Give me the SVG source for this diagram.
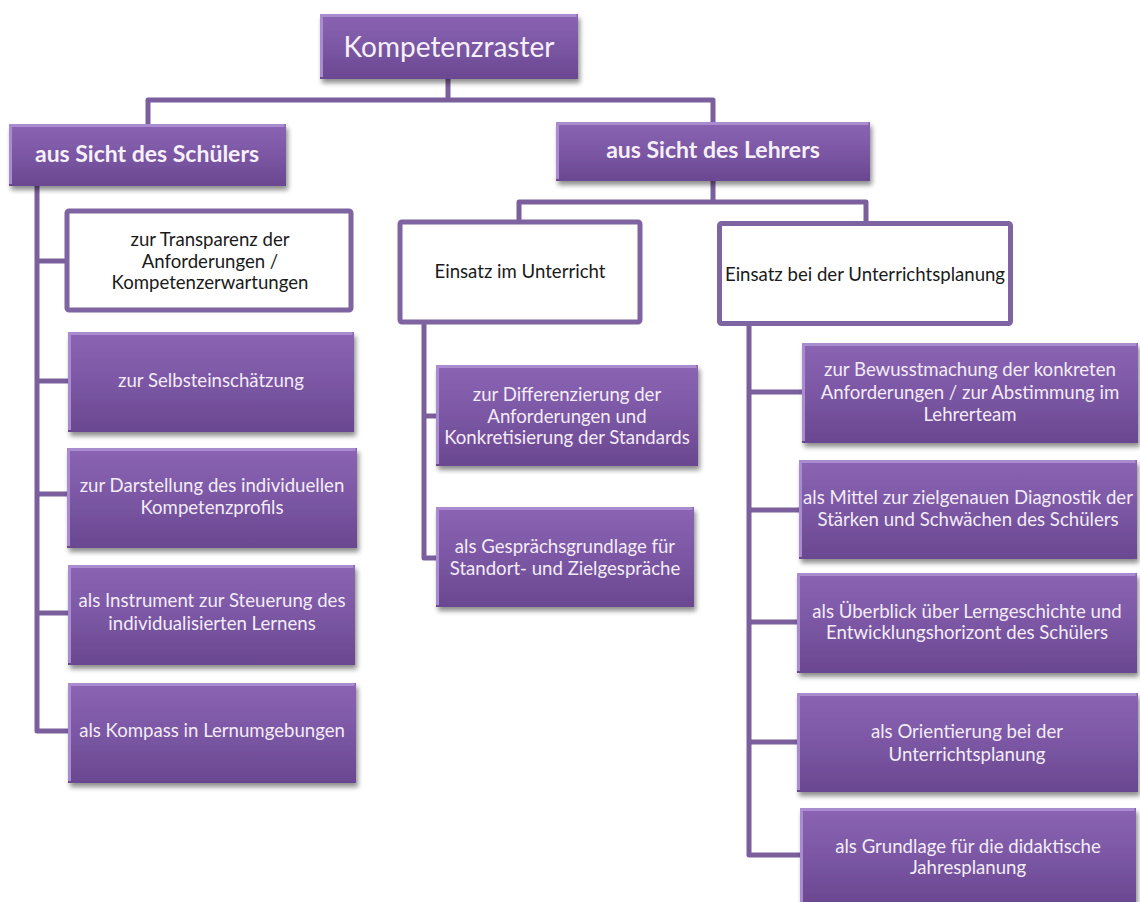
<svg xmlns="http://www.w3.org/2000/svg" width="1140" height="902" viewBox="0 0 1140 902">
<defs>
<linearGradient id="pg" x1="0" y1="0" x2="0" y2="1">
<stop offset="0" stop-color="#8b64b4"/>
<stop offset="0.5" stop-color="#7b57a4"/>
<stop offset="1" stop-color="#6a4790"/>
</linearGradient>
<filter id="sh" x="-10%" y="-10%" width="125%" height="135%">
<feGaussianBlur in="SourceAlpha" stdDeviation="2.5"/>
<feOffset dx="2" dy="4" result="b"/>
<feComponentTransfer><feFuncA type="linear" slope="0.45"/></feComponentTransfer>
<feMerge><feMergeNode/><feMergeNode in="SourceGraphic"/></feMerge>
</filter>
</defs>
<style>
.p{fill:url(#pg);filter:url(#sh)}
.hl{fill:none;stroke:#a98bd0;stroke-width:3}
.w{fill:#ffffff;stroke:#7f64a2;stroke-width:5}
.c{fill:none;stroke:#7b5e9c;stroke-width:5;stroke-linejoin:round}
text{font-family:Lato,"Open Sans","Liberation Sans",sans-serif;text-anchor:middle}
.t{fill:#f3ecf7;font-size:18.6px}
.b{fill:#1a1a1a;font-size:18.6px}
.h{fill:#f6f0fa;font-size:23px;font-weight:bold}
.k{fill:#f6f0fa;font-size:28px}
</style>
<g id="connectors">
<path class="c" d="M448 79 V100 M148 124 V100 H713 V122"/>
<path class="c" d="M37 186 V731 H68 M37 261 H67 M37 381 H68 M37 494 H67 M37 613 H68"/>
<path class="c" d="M713 181 V202 M519 222 V202 H866 V222"/>
<path class="c" d="M424 322 V558 H436 M424 416 H436"/>
<path class="c" d="M749 323 V855 H800 M749 392 H802 M749 510 H799 M749 622 H797 M749 742 H797"/>
</g>
<g id="n-root">
<rect class="p" x="320" y="14" width="258" height="65"/>
<path class="hl" d="M321.5 77 V15.5 H576.5"/>
<text class="k" x="449" y="57">Kompetenzraster</text>
</g>
<g id="n-schueler">
<rect class="p" x="9" y="124" width="277" height="62"/>
<path class="hl" d="M10.5 184 V125.5 H284.5"/>
<text class="h" x="147" y="162">aus Sicht des Schülers</text>
</g>
<g id="n-lehrer">
<rect class="p" x="556" y="122" width="314" height="59"/>
<path class="hl" d="M557.5 179 V123.5 H868.5"/>
<text class="h" x="713" y="158">aus Sicht des Lehrers</text>
</g>
<g id="n-transparenz">
<rect class="w" x="67" y="211" width="284" height="99" rx="2"/>
<text class="b" x="210" y="246">zur Transparenz der</text>
<text class="b" x="210" y="268">Anforderungen /</text>
<text class="b" x="210" y="289">Kompetenzerwartungen</text>
</g>
<g id="n-selbst">
<rect class="p" x="68" y="332" width="286" height="100"/>
<path class="hl" d="M69.5 430 V333.5 H352.5"/>
<text class="t" x="211" y="387">zur Selbsteinschätzung</text>
</g>
<g id="n-darstellung">
<rect class="p" x="67" y="448" width="290" height="100"/>
<path class="hl" d="M68.5 546 V449.5 H355.5"/>
<text class="t" x="212" y="492">zur Darstellung des individuellen</text>
<text class="t" x="212" y="514">Kompetenzprofils</text>
</g>
<g id="n-steuerung">
<rect class="p" x="68" y="565" width="287" height="100"/>
<path class="hl" d="M69.5 663 V566.5 H353.5"/>
<text class="t" x="212" y="607">als Instrument zur Steuerung des</text>
<text class="t" x="212" y="630">individualisierten Lernens</text>
</g>
<g id="n-kompass">
<rect class="p" x="68" y="683" width="288" height="100"/>
<path class="hl" d="M69.5 781 V684.5 H354.5"/>
<text class="t" x="212" y="737">als Kompass in Lernumgebungen</text>
</g>
<g id="n-unterricht">
<rect class="w" x="400" y="222" width="240" height="100" rx="2"/>
<text class="b" x="520" y="278">Einsatz im Unterricht</text>
</g>
<g id="n-planung">
<rect class="w" x="719.5" y="223.5" width="291" height="100" rx="2"/>
<text class="b" x="865" y="281">Einsatz bei der Unterrichtsplanung</text>
</g>
<g id="n-differenzierung">
<rect class="p" x="436" y="365" width="262" height="101"/>
<path class="hl" d="M437.5 464 V366.5 H696.5"/>
<text class="t" x="567" y="401">zur Differenzierung der</text>
<text class="t" x="567" y="423">Anforderungen und</text>
<text class="t" x="567" y="444">Konkretisierung der Standards</text>
</g>
<g id="n-gespraech">
<rect class="p" x="436" y="507" width="258" height="100"/>
<path class="hl" d="M437.5 605 V508.5 H692.5"/>
<text class="t" x="565" y="553">als Gesprächsgrundlage für</text>
<text class="t" x="565" y="575">Standort- und Zielgespräche</text>
</g>
<g id="n-bewusst">
<rect class="p" x="802" y="343" width="336" height="100"/>
<path class="hl" d="M803.5 441 V344.5 H1136.5"/>
<text class="t" x="970" y="376">zur Bewusstmachung der konkreten</text>
<text class="t" x="970" y="399">Anforderungen / zur Abstimmung im</text>
<text class="t" x="970" y="421">Lehrerteam</text>
</g>
<g id="n-mittel">
<rect class="p" x="799" y="460" width="338" height="99"/>
<path class="hl" d="M800.5 557 V461.5 H1135.5"/>
<text class="t" x="968" y="504">als Mittel zur zielgenauen Diagnostik der</text>
<text class="t" x="968" y="526">Stärken und Schwächen des Schülers</text>
</g>
<g id="n-ueberblick">
<rect class="p" x="797" y="573" width="340" height="100"/>
<path class="hl" d="M798.5 671 V574.5 H1135.5"/>
<text class="t" x="967" y="618">als Überblick über Lerngeschichte und</text>
<text class="t" x="967" y="639">Entwicklungshorizont des Schülers</text>
</g>
<g id="n-orientierung">
<rect class="p" x="797" y="693" width="341" height="99"/>
<path class="hl" d="M798.5 790 V694.5 H1136.5"/>
<text class="t" x="967" y="738">als Orientierung bei der</text>
<text class="t" x="967" y="761">Unterrichtsplanung</text>
</g>
<g id="n-grundlage">
<rect class="p" x="800" y="808" width="336" height="96"/>
<path class="hl" d="M801.5 904 V809.5 H1134.5"/>
<text class="t" x="968" y="853">als Grundlage für die didaktische</text>
<text class="t" x="968" y="874">Jahresplanung</text>
</g>
</svg>
